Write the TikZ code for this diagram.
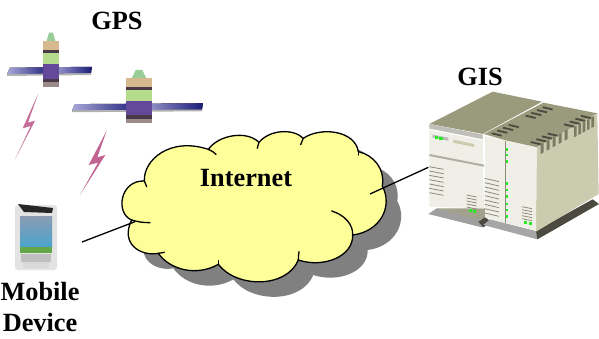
\documentclass[tikz,border=0pt]{standalone}
\usepackage{fontspec}
\setmainfont{Liberation Serif}
\definecolor{cloudy}{HTML}{FFFF99}
\definecolor{shadowg}{HTML}{808080}
\definecolor{panelA}{HTML}{A8A8D8}
\definecolor{panelB}{HTML}{1C1C78}
\definecolor{bolt}{HTML}{B84A80}
\definecolor{srvTop}{HTML}{9A9A7C}
\definecolor{srvSide}{HTML}{CBCBAF}
\definecolor{srvFront}{HTML}{EFEFE8}
\definecolor{srvLine}{HTML}{8C8C78}
\definecolor{srvDark}{HTML}{4A4A40}
\definecolor{led}{HTML}{22EE22}
\definecolor{satTan}{HTML}{D6B98E}
\definecolor{satDark}{HTML}{4A3A48}
\definecolor{satGreen}{HTML}{B4DC8C}
\definecolor{satPurple}{HTML}{64489A}
\definecolor{satBase}{HTML}{9A8A88}
\definecolor{phoneSky}{HTML}{4AA4CC}
\definecolor{phoneTop}{HTML}{8C9CB4}
\definecolor{phoneGreen}{HTML}{62A848}
\tikzset{
  label text/.style={font=\fontsize{26.3}{31}\selectfont\bfseries,text=black,inner sep=0pt,align=center},
  link/.style={line width=1.3pt,black},
  cloud edge/.style={line width=1.3pt,black,line cap=round},
  louver/.style={line width=.8pt,srvLine},
  ventbar/.style={line width=1.8pt,srvDark},
  ledbox/.style={fill=led,draw=none},
}
\newcommand{\cloudshape}{
  (103,213) .. controls (100,150) and (180,80) .. (295,118)
  .. controls (325,75) and (410,60) .. (447,97)
  .. controls (480,58) and (550,55) .. (580,85)
  .. controls (630,50) and (735,60) .. (745,125)
  .. controls (790,135) and (825,175) .. (817,228)
  .. controls (850,290) and (810,365) .. (728,375)
  .. controls (730,440) and (640,475) .. (565,450)
  .. controls (530,535) and (380,535) .. (325,463)
  .. controls (260,500) and (180,480) .. (145,430)
  .. controls (90,440) and (30,400) .. (65,330)
  .. controls (15,310) and (30,210) .. (103,213) -- cycle}
\newcommand{\satellite}[5]{%
  \begin{scope}[shift={(#1,#2)}]
    \fill[left color=panelA,right color=panelB]
      (-#4,#5*.58) -- (0,#5*.57) -- (0,#5*.71) -- (-#4-3,#5*.72) -- cycle;
    \fill[left color=panelA,right color=panelB]
      (0,#5*.57) -- (#4,#5*.56) -- (#4-1,#5*.70) -- (0,#5*.71) -- cycle;
    \fill[gray!60] (-#4-3,#5*.72) -- (#4-1,#5*.70) -- (#4-1,#5*.74) -- (-#4-3,#5*.76) -- cycle;
    \fill[green!35!gray!60] (-#3*.25,-#5*.18) -- (#3*.25,-#5*.18) -- (#3*.55,0) -- (-#3*.55,0) -- cycle;
    \fill[satTan] (-#3,0) rectangle (#3,#5*.22);
    \fill[satDark] (-#3,#5*.2) rectangle (#3,#5*.27);
    \fill[satGreen] (-#3,#5*.27) rectangle (#3,#5*.5);
    \fill[satPurple] (-#3,#5*.5) rectangle (#3,#5*.82);
    \fill[satDark] (-#3,#5*.82) rectangle (#3,#5*.9);
    \fill[satBase] (-#3,#5*.9) rectangle (#3,#5);
  \end{scope}}
\begin{document}
\begin{tikzpicture}[x=1pt,y=-1pt]
\useasboundingbox (0,0) rectangle (599,338);
\fill[white] (0,0) rectangle (599,338);

% satellites
\satellite{51}{41}{8}{41}{46}
\satellite{139}{78}{13}{64}{45}

% lightning bolts
\begin{scope}[scale=1/3]
  \fill[bolt,opacity=.8] (115,280) -- (68,385) -- (92,378) -- (45,478) -- (105,362) -- (84,368) -- cycle;
  \fill[bolt,opacity=.85] (320,392) -- (266,495) -- (294,488) -- (240,585) -- (316,465) -- (292,472) -- cycle;
\end{scope}

% phone
\fill[gray!22,rounded corners=3pt] (15,205) rectangle (57,270);
\fill[black!85] (18,204) -- (53,208) -- (52,213) -- (24,212) -- cycle;
\fill[top color=phoneTop,bottom color=phoneSky] (20,216) rectangle (52,247);
\fill[phoneGreen] (20,247) rectangle (52,253);
\fill[gray!50] (21,254) rectangle (51,262);
\fill[gray!30] (23,262) rectangle (49,268);
\coordinate (phone) at (82,242);

% cloud
\begin{scope}[shift={(125,125)},scale=1/3]
  \fill[shadowg] \cloudshape;
\end{scope}
\begin{scope}[shift={(110,110)},scale=1/3]
  \filldraw[cloud edge,fill=cloudy] \cloudshape;
  \draw[cloud edge] (295,118) .. controls (305,122) and (312,127) .. (318,133);
  \draw[cloud edge] (447,97) .. controls (445,103) and (443,109) .. (442,115);
  \draw[cloud edge] (580,85) .. controls (578,90) and (575,95) .. (572,104);
  \draw[cloud edge] (745,125) -- (745,135);
  \draw[cloud edge] (728,375) .. controls (730,345) and (705,315) .. (665,303);
  \draw[cloud edge] (565,450) .. controls (565,440) and (566,433) .. (567,425);
  \draw[cloud edge] (325,463) -- (325,452);
  \draw[cloud edge] (145,430) -- (163,427);
  \draw[cloud edge] (65,330) .. controls (85,336) and (100,338) .. (120,338);
  \draw[cloud edge] (103,213) -- (110,230);
  \coordinate (cloudL) at (75,335);
  \coordinate (cloudR) at (780,252);
\end{scope}

% server
\begin{scope}[shift={(410,60)},scale=1/3]
  % base and shadow
  \fill[gray!75] (55,462) -- (80,445) -- (240,485) -- (215,502) -- cycle;
  \fill[srvSide!80!black] (80,445) -- (230,445) -- (225,480) -- (190,475) -- cycle;
  \fill[srvDark] (205,485) -- (225,472) -- (245,485) -- (220,502) -- cycle;
  \fill[gray!70] (220,495) -- (240,478) -- (385,515) -- (382,538) -- cycle;
  \fill[srvDark] (382,538) -- (567,432) -- (548,418) -- (378,512) -- cycle;
  % left cabinet
  \fill[srvTop] (58,192) -- (248,95) -- (396,125) -- (218,222) -- cycle;
  \fill[srvFront] (58,192) -- (218,222) -- (222,445) -- (58,440) -- cycle;
  \fill[srvFront!80!black] (58,192) -- (218,224) -- (218,238) -- (58,206) -- cycle;
  \fill[white] (58,206) -- (218,238) -- (218,241) -- (58,209) -- cycle;
  \fill[srvLine!70] (58,282) -- (222,314) -- (222,320) -- (58,288) -- cycle;
  \fill[gray!55] (68,224) -- (115,233) -- (115,242) -- (68,233) -- cycle;
  \fill[ledbox] (74,227) rectangle (84,236);
  \fill[ledbox] (88,230) rectangle (98,240);
  \fill[srvSide] (130,239) -- (192,252) -- (192,261) -- (130,248) -- cycle;
  \foreach \yy in {320,333,...,410}
    \draw[louver] (58,\yy) -- (101,\yy+8);
  \foreach \yy in {405,414,...,441}
    \draw[louver] (170,\yy) -- (200,\yy+6);
  \fill[ledbox] (177,447) rectangle (186,456);
  \fill[ledbox] (190,450) rectangle (199,459);
  % right cabinet
  \fill[srvTop] (222,222) -- (400,128) -- (562,160) -- (380,262) -- (290,242) -- cycle;
  \fill[srvSide] (380,262) -- (562,160) -- (566,402) -- (378,515) -- cycle;
  \fill[srvFront] (225,228) -- (380,262) -- (378,512) -- (225,472) -- cycle;
  \draw[line width=1pt,srvLine] (287,243) -- (287,490);
  \foreach \yy in {345,358,...,450}
    \draw[louver] (224,\yy+10) -- (267,\yy+20);
  \foreach \yy in {440,449,...,476}
    \draw[louver] (336,\yy) -- (366,\yy+6);
  \foreach \yy in {268,285,305,370,390,410,432,450,470}
    \fill[ledbox] (287,\yy-4) rectangle (293,\yy+4);
  \fill[ledbox] (342,483) rectangle (351,492);
  \fill[ledbox] (356,486) rectangle (365,495);
  % vents on top
  \foreach \dd in {0,10,20,30}{
    \draw[ventbar] (245+\dd*1.7,220-\dd*.85) -- (275+\dd*1.7,227-\dd*.85);
    \draw[ventbar] (347+\dd*1.7,167-\dd*.85) -- (377+\dd*1.7,174-\dd*.85);
    \draw[ventbar] (362+\dd*1.7,246-\dd*.85) -- (392+\dd*1.7,253-\dd*.85);
    \draw[ventbar] (462+\dd*1.7,193-\dd*.85) -- (492+\dd*1.7,200-\dd*.85);
  }
  \foreach \dd in {0,1,2,3,4}{
    \fill[srvTop!80!black] (392+\dd*18,253-\dd*10) -- (401+\dd*18,248-\dd*10) -- (401+\dd*18,277-\dd*10) -- (392+\dd*18,282-\dd*10) -- cycle;
    \fill[srvTop!80!black] (492+\dd*13,200-\dd*7) -- (500+\dd*13,196-\dd*7) -- (500+\dd*13,228-\dd*7) -- (492+\dd*13,232-\dd*7) -- cycle;
  }
  \coordinate (server) at (55,322);
\end{scope}

% connectors
\draw[link] (phone) -- (cloudL);
\draw[link] (cloudR) -- (server);

% labels
\node[label text] (gps) at (117,21) {GPS};
\node[label text] (gis) at (480,77) {GIS};
\node[label text] (internet) at (246,178) {Internet};
\node[label text] (mobile) at (40,307) {Mobile\\Device};
\end{tikzpicture}
\end{document}
